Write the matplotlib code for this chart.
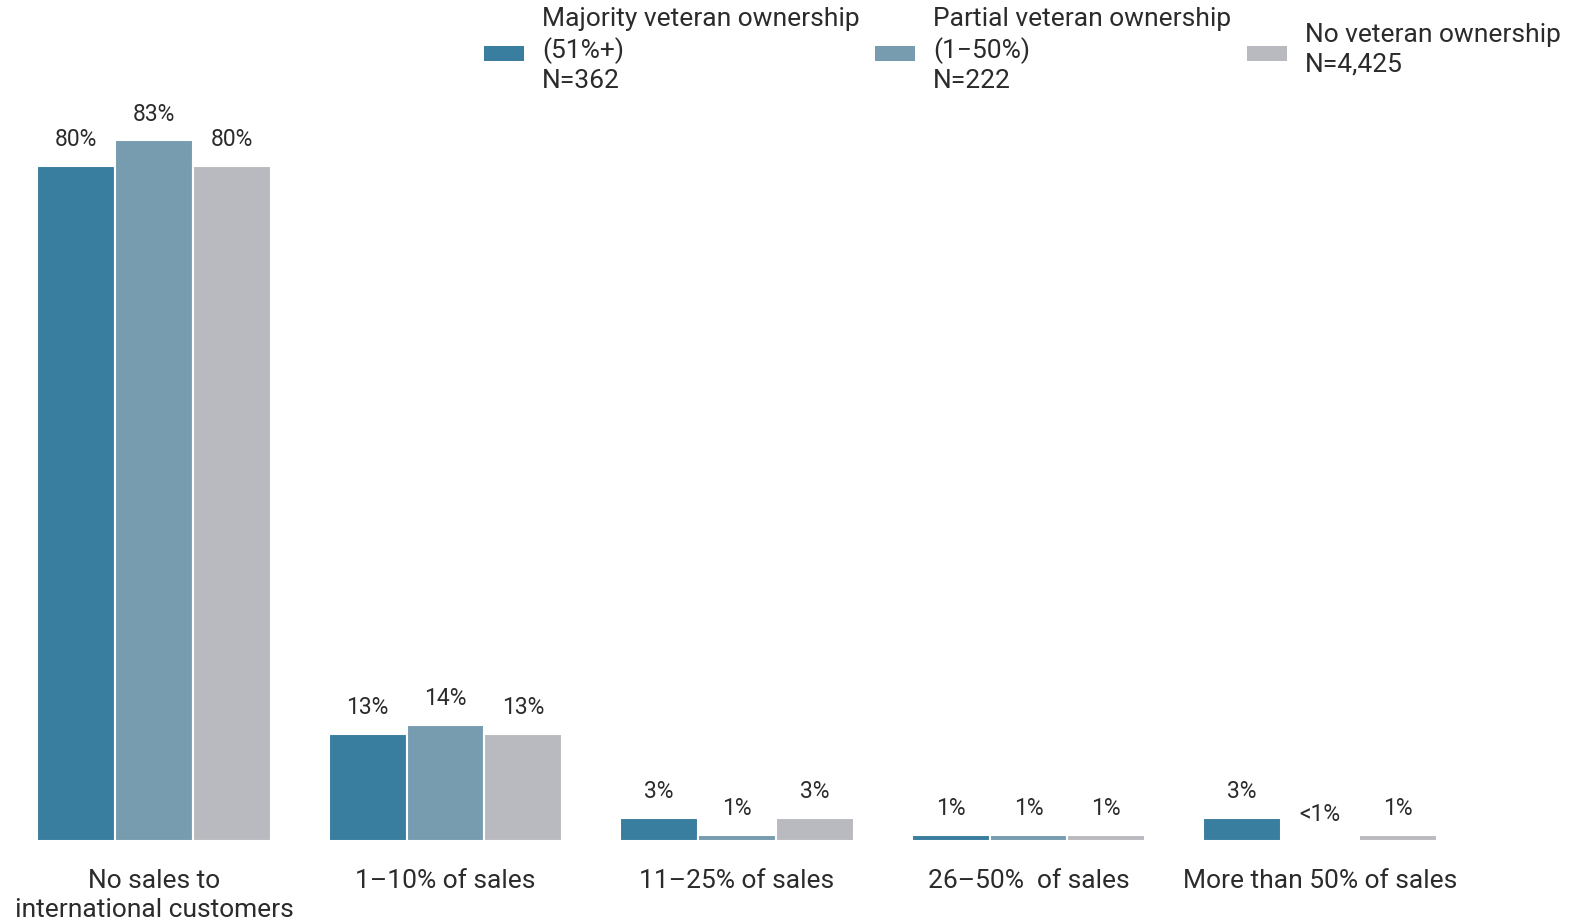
import matplotlib
matplotlib.use("Agg")
import matplotlib.pyplot as plt
from matplotlib.patches import Patch
import numpy as np

plt.rcParams['font.family'] = ['Roboto', 'DejaVu Sans']

categories = ["No sales to\ninternational customers", "1\u201310% of sales", "11\u201325% of sales",
              "26\u201350%  of sales", "More than 50% of sales"]
series_names = ["Majority veteran ownership\n(51%+)\nN=362",
                "Partial veteran ownership\n(1\u221250%)\nN=222",
                "No veteran ownership\nN=4,425"]
majority = [80, 12.7, 2.7, 0.7, 2.7]
partial = [83, 13.7, 0.7, 0.7, 0.0]
no_vet = [80, 12.7, 2.7, 0.7, 0.7]
majority_labels = ["80%", "13%", "3%", "1%", "3%"]
partial_labels = ["83%", "14%", "1%", "1%", "<1%"]
no_vet_labels = ["80%", "13%", "3%", "1%", "1%"]
colors = ["#397D9F", "#779CB0", "#B9BABF"]
text_color = "#2b2b2b"

W, H = 1571, 921
fig = plt.figure(figsize=(W / 100, H / 100), dpi=100)
base_px = 841
ax = fig.add_axes([0, (H - base_px) / H, 1, base_px / H])
px_per_cat = 291.5
x0 = 154
ax.set_xlim(-x0 / px_per_cat, (W - x0) / px_per_cat)
ax.set_ylim(0, base_px / 8.44)

x = np.arange(len(categories))
width = 0.267
all_vals = [majority, partial, no_vet]
all_labels = [majority_labels, partial_labels, no_vet_labels]
for i, (vals, labs, c) in enumerate(zip(all_vals, all_labels, colors)):
    xs = x + (i - 1) * width
    ax.bar(xs, vals, width, color=c, edgecolor="white", linewidth=1.5)
    for xi, v, lab in zip(xs, vals, labs):
        ax.annotate(lab, (xi, v), xytext=(0, 19), textcoords="offset points",
                    ha="center", va="center", fontsize=16.5, color=text_color)

for s in ax.spines.values():
    s.set_visible(False)
ax.set_yticks([])
ax.set_xticks(x)
ax.set_xticklabels(categories, fontsize=19, color=text_color, linespacing=1.24)
ax.tick_params(axis="x", length=0, pad=20.5)

legend_x = [484, 875, 1247]
for name, c, lx in zip(series_names, colors, legend_x):
    leg = fig.legend(handles=[Patch(facecolor=c, edgecolor="none")], labels=[name],
                     loc="center left", bbox_to_anchor=(lx / W, 1 - 50 / H),
                     frameon=False, handlelength=1.5, handleheight=0.5,
                     handletextpad=0.7, borderpad=0, borderaxespad=0,
                     labelcolor=text_color, prop={"size": 19})
    for t in leg.get_texts():
        t.set_linespacing(1.3)
    for h in leg.legend_handles:
        h.set_y(h.get_y() - 2.5)

fig.savefig("out.png", dpi=100)
